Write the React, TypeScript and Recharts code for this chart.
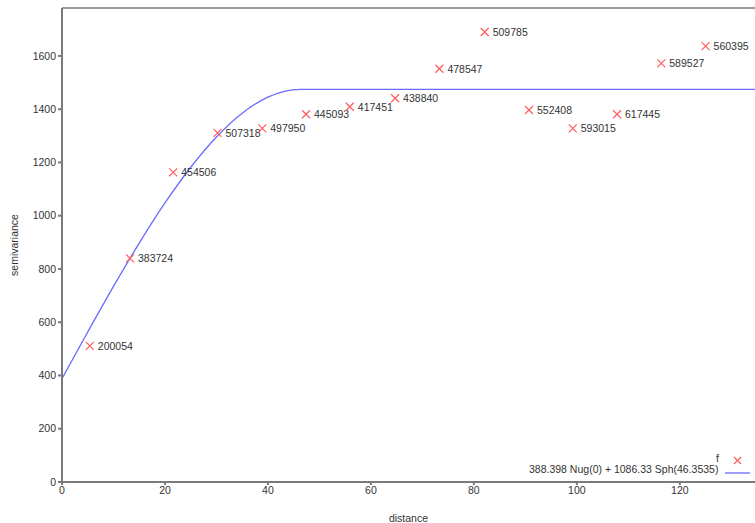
import React from 'react';
import {
    ComposedChart,
    Scatter,
    Line,
    XAxis,
    YAxis,
} from 'recharts';

const MARK_RED = '#ff5c5c';
const MODEL_BLUE = '#6a6aff';
const AXIS_GREY = '#7a7a7a';
const TEXT = '#333';
const FONT = '"Liberation Sans", Arial, sans-serif';

// empirical semivariogram: lag distance, semivariance, pair label
const lagDistance = [5.4, 13.2, 21.6, 30.2, 38.9, 47.4, 55.9, 64.7, 73.3, 82.1, 90.7, 99.2, 107.8, 116.4, 125.0];
const semivariance = [511, 840, 1163, 1311, 1328, 1381, 1409, 1441, 1552, 1690, 1397, 1328, 1381, 1572, 1637];
const pairLabels = [
    '200054', '383724', '454506', '507318', '497950', '445093', '417451', '438840',
    '478547', '509785', '552408', '593015', '617445', '589527', '560395',
];

// fitted model curve
const modelDistance = [0, 5, 10, 15, 20, 25, 30, 35, 40, 43, 46.35, 134.6];
const modelValue = [388.4, 563.5, 734.5, 897.3, 1047.8, 1182.0, 1295.8, 1385.0, 1445.5, 1466.4, 1474.7, 1474.7];

const xTicks = [0, 20, 40, 60, 80, 100, 120];
const yTicks = [0, 200, 400, 600, 800, 1000, 1200, 1400, 1600];

const points = lagDistance.map((d, i) => ({ x: d, y: semivariance[i], label: pairLabels[i] }));
const model = modelDistance.map((d, i) => ({ x: d, y: modelValue[i] }));

const CrossMark = (props: any) => {
    const { cx, cy, payload } = props;
    if (cx == null || cy == null) return null;
    return (
        <g>
            <path
                d={`M${cx - 4},${cy - 4}L${cx + 4},${cy + 4}M${cx + 4},${cy - 4}L${cx - 4},${cy + 4}`}
                stroke={MARK_RED}
                strokeWidth={1.2}
                fill="none"
            />
            <text x={cx + 8} y={cy + 4} fontSize={10.5} fill={TEXT} fontFamily={FONT}>
                {payload.label}
            </text>
        </g>
    );
};

const YLabel = (props: any) => {
    const vb = props.viewBox || {};
    const cy = (vb.y ?? 8) + (vb.height ?? 474) / 2;
    return (
        <text
            x={14}
            y={cy}
            transform={`rotate(-90 14 ${cy})`}
            textAnchor="middle"
            dominantBaseline="central"
            fontSize={10.5}
            fill={TEXT}
            fontFamily={FONT}
        >
            semivariance
        </text>
    );
};

export default function App() {
    const tickStyle = { fontSize: 10.5, fill: TEXT, fontFamily: FONT };
    return (
        <div style={{ position: 'absolute', left: 0, top: 0, width: 755, height: 523, background: '#fff', overflow: 'hidden' }}>
            <ComposedChart width={755} height={523} margin={{ top: 0, right: 0, bottom: 1, left: 0 }}>
                <XAxis
                    xAxisId="top"
                    orientation="top"
                    type="number"
                    dataKey="x"
                    domain={[0, 134.6]}
                    ticks={xTicks}
                    height={8}
                    tickSize={3}
                    tickFormatter={() => ''}
                    stroke={AXIS_GREY}
                    strokeWidth={1.5}
                />
                <XAxis
                    type="number"
                    dataKey="x"
                    domain={[0, 134.6]}
                    ticks={xTicks}
                    allowDataOverflow
                    height={40}
                    tickSize={3}
                    tick={tickStyle}
                    stroke={AXIS_GREY}
                    strokeWidth={2}
                    label={{ value: 'distance', position: 'insideBottom', offset: 0, fontSize: 10.5, fill: TEXT, fontFamily: FONT }}
                />
                <YAxis
                    type="number"
                    dataKey="y"
                    domain={[0, 1780]}
                    ticks={yTicks}
                    allowDataOverflow
                    width={62}
                    tickSize={4}
                    tick={tickStyle}
                    stroke={AXIS_GREY}
                    strokeWidth={2}
                    label={<YLabel />}
                />
                <Line
                    data={model}
                    dataKey="y"
                    type="monotone"
                    stroke={MODEL_BLUE}
                    strokeWidth={1.3}
                    dot={false}
                    activeDot={false}
                    isAnimationActive={false}
                />
                <Scatter data={points} dataKey="y" shape={<CrossMark />} isAnimationActive={false} />
            </ComposedChart>
            <div
                style={{
                    position: 'absolute',
                    left: 520,
                    top: 452,
                    width: 235,
                    fontFamily: FONT,
                    fontSize: 10.5,
                    color: TEXT,
                }}
            >
                <div style={{ position: 'absolute', left: 196, top: 0 }}>f</div>
                <svg style={{ position: 'absolute', left: 213, top: 4 }} width={10} height={10}>
                    <path d="M1,1L8,8M8,1L1,8" stroke={MARK_RED} strokeWidth={1.2} fill="none" />
                </svg>
                <div style={{ position: 'absolute', left: 9, top: 11, whiteSpace: 'nowrap' }}>
                    388.398 Nug(0) + 1086.33 Sph(46.3535)
                </div>
                <svg style={{ position: 'absolute', left: 205, top: 18 }} width={26} height={6}>
                    <line x1={0} y1={3} x2={25} y2={3} stroke={MODEL_BLUE} strokeWidth={1.3} />
                </svg>
            </div>
        </div>
    );
}
